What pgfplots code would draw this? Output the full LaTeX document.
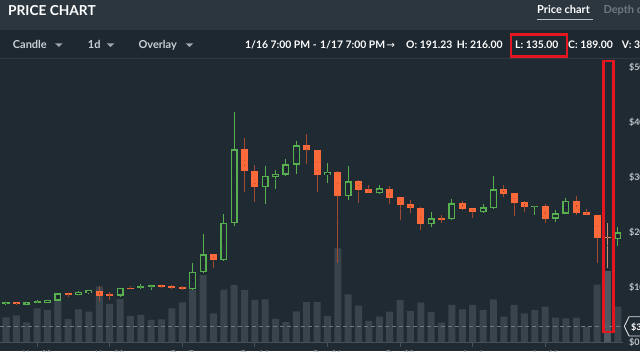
\documentclass[border=0pt]{standalone}
\usepackage{pgfplots}
\pgfplotsset{compat=1.18}
\usepackage{pgfplotstable}
\usepackage{fontspec}
\setmainfont{Lato}
\newfontfamily\symfont{DejaVu Sans}

\definecolor{bg}{RGB}{31,42,51}
\definecolor{hdr}{RGB}{43,54,63}
\definecolor{tool}{RGB}{30,40,48}
\definecolor{sepc}{RGB}{46,57,66}
\definecolor{vol}{RGB}{57,68,77}
\definecolor{volsel}{RGB}{78,89,98}
\definecolor{up}{RGB}{88,175,80}
\definecolor{dn}{RGB}{250,105,58}
\definecolor{dnwick}{RGB}{160,75,50}
\definecolor{selbody}{RGB}{232,140,100}
\definecolor{selwick}{RGB}{200,140,115}
\definecolor{axgrey}{RGB}{72,82,90}
\definecolor{lbl}{RGB}{190,196,202}
\definecolor{tbtxt}{RGB}{200,207,214}
\definecolor{hl}{RGB}{228,22,32}
\definecolor{dashc}{RGB}{110,120,128}

\pgfplotsset{
  cwick/.style={only marks, mark=*, mark size=0.01pt, mark options={draw=none, fill=none},
    error bars/.cd, y dir=both, y explicit, error mark=none,
    error bar style={line width=1pt, draw=#1}},
  cbody/.style 2 args={only marks, mark=*, mark size=0.01pt, mark options={draw=none, fill=none},
    error bars/.cd, y dir=both, y explicit, error mark=none,
    error bar style={line width=#2, draw=#1}},
}

% up (green) candles
\pgfplotstableread{
i O H L C
0 69 73 68 72
2 68 72.5 67.5 72
3 70.5 76.5 70 74.5
4 71.5 77 71 76.5
5 75 89 74 88.5
7 85.5 93 85 91.5
8 89 95 88 94.5
11 84 99 81.8 98.8
13 98 105 95.5 101.8
14 99.4 104 94.5 103.6
18 95.8 143 95 127.8
19 127 196 126 159.5
21 148.5 232.7 148 217
22 216.4 417.6 211.5 350.3
25 281.3 320.6 251 302.4
26 300.6 312.7 278.7 305.5
27 304.2 332.7 301.8 323
28 322.4 365 305 357.6
31 303 326 289.6 309.7
33 265.5 320 259 292
36 271.5 285 269 279.4
41 214 235.8 208.5 225
43 223 260 222 252
46 236.4 250.3 234 245
47 243 301.8 242.5 277.6
51 245.3 247.5 231 247.5
53 224.2 240 217.6 234
54 233.3 261 233 256.4
59 187 208.5 174.5 199.4
}\upt

% down (red) candles
\pgfplotstableread{
i O H L C
1 72 73 67 68.5
6 88.5 89.5 82 85
9 93.5 102 74 84
10 86.7 91.5 76.5 85
12 98.8 102 96 97
15 103.6 104 99 99.4
16 101.2 103 96.4 98.2
17 100.6 102.4 94 96.4
20 159.5 160 134 148.5
23 350.3 370 273 311
24 311.5 321.8 255 281.3
29 357.6 378 323 348.5
30 349 349.5 273 303
32 309.7 310.5 143 265.5
34 292 294.5 252 276.4
35 277.6 285.5 270 271.5
37 278.7 284 251 262.4
38 263 263.5 222 248.5
39 250.3 258 235 243
40 244 246 203.6 214
42 225 231 215.8 223
44 252 256.4 239.5 242.4
45 243 243.5 225 236.4
48 277.6 285.5 263 269
49 271 271.5 229 252
50 254 257 236.4 245
52 247.8 251 217 224.2
55 256.4 265.5 231 235
56 237 242.4 230 230.4
57 231 231.5 144 188.5
}\dnt

% selected candle
\pgfplotstableread{
i O H L C
58 191.23 216 135 189
}\selt

% volume (millions)
\pgfplotstableread{
i v
0 4.63
1 5.0
2 3.69
3 6.32
4 6.0
5 7.74
6 4.31
7 6.13
8 5.68
9 10.37
10 7.13
11 8.06
12 4.88
13 5.06
14 4.13
15 4.26
16 6.32
17 7.44
18 9.84
19 12.56
20 5.38
21 9.84
22 10.69
23 9.75
24 7.88
25 8.0
26 4.35
27 3.71
28 5.72
29 7.46
30 7.5
31 4.88
32 17.57
33 8.94
34 6.81
35 3.94
36 4.74
37 5.68
38 7.88
39 5.81
40 7.37
41 5.63
42 3.62
43 6.94
44 6.13
45 6.94
46 6.0
47 8.0
48 4.74
49 6.94
50 5.38
51 6.0
52 6.62
53 4.56
54 4.44
55 4.56
56 2.87
57 10.74
59 6.62
}\volt

\pgfplotstableread{
i v
58 13.37
}\volselt

\begin{document}
\begin{tikzpicture}[x=1pt,y=1pt]
\useasboundingbox (0,0) rectangle (640,351);
\clip (0,0) rectangle (640,351);
\fill[bg] (0,0) rectangle (640,351);
\fill[hdr] (0,321) rectangle (640,351);
\fill[tool] (0,293) rectangle (640,321);
\draw[sepc, line width=1pt] (0,292.5) -- (640,292.5);

% header
\node[anchor=base west, inner sep=0, font=\fontsize{13.7}{16}\selectfont\bfseries, white] at (8,335.3) {PRICE CHART};
\node[anchor=base west, inner sep=0, font=\fontsize{11}{12}\selectfont\bfseries, white] at (537,337) {Price chart};
\draw[lbl, line width=1.3pt] (537,331.5) -- (593.3,331.5);
\node[anchor=base west, inner sep=0, font=\fontsize{11}{12}\selectfont\bfseries, text=dashc] at (603.3,337) {Depth chart};

% toolbar
\begin{scope}[font=\fontsize{11}{12}\selectfont\bfseries]
\node[anchor=base west, inner sep=0, text=tbtxt] at (12.7,302.3) {Candle};
\node[anchor=base west, inner sep=0, text=tbtxt] at (87.7,302.3) {1d};
\node[anchor=base west, inner sep=0, text=tbtxt] at (138.3,302.3) {Overlay};
\fill[lbl!80!bg] (55,307.7) -- (62.7,307.7) -- (58.85,304) -- cycle;
\fill[lbl!80!bg] (106.7,307.7) -- (114.3,307.7) -- (110.5,304) -- cycle;
\fill[lbl!80!bg] (185.7,307.7) -- (193.3,307.7) -- (189.5,304) -- cycle;
\end{scope}
\begin{scope}[font=\fontsize{10.4}{12}\selectfont\bfseries]
\node[anchor=base west, inner sep=0, text=white] at (245,302.3) {1/16 7:00 PM -};
\node[anchor=base west, inner sep=0, text=white] at (320,302.3) {1/17 7:00 PM};
\node[anchor=base west, inner sep=0, text=white, font=\symfont\fontsize{10}{12}\selectfont] at (386.5,302.3) {→};
\node[anchor=base west, inner sep=0, text=white] at (406,302.3) {O: 191.23};
\node[anchor=base west, inner sep=0, text=white] at (456.7,302.3) {H: 216.00};
\node[anchor=base west, inner sep=0, text=white] at (515,302.3) {L: 135.00};
\node[anchor=base west, inner sep=0, text=white] at (568,302.3) {C: 189.00};
\node[anchor=base west, inner sep=0, text=white] at (621.7,302.3) {V: 39.4M};
\end{scope}

% volume axis
\begin{axis}[at={(0pt,9pt)}, anchor=south west, scale only axis,
  width=623pt, height=284pt,
  xmin=-0.5786, xmax=59.5, ymin=0, ymax=53.25,
  axis x line=bottom, axis y line=none,
  x axis line style={draw=axgrey, line width=1pt, -},
  xtick={3,10,17,24,31,38,45,52},
  xticklabels={Nov 23,Nov 30,Dec 7,Dec 14,Dec 21,Dec 28,Jan 4,Jan 11},
  tick align=outside, major tick length=5pt,
  tick style={draw=axgrey, line width=1pt},
  xticklabel style={font=\fontsize{9}{10}\selectfont\bfseries, text=lbl},
  clip=false]
\addplot[ybar, bar width=7pt, bar shift=0pt, fill=vol, draw=none] table[x=i, y=v] {\volt};
\addplot[ybar, bar width=7pt, bar shift=0pt, fill=volsel, draw=none] table[x=i, y=v] {\volselt};
\addplot[dashc, line width=0.8pt, dash pattern=on 4pt off 3pt] coordinates {(-0.5786,3) (59.3,3)};
\end{axis}

% price axis
\begin{axis}[at={(0pt,9pt)}, anchor=south west, scale only axis,
  width=623pt, height=284pt,
  xmin=-0.5786, xmax=59.5, ymin=0, ymax=516.36,
  hide x axis, axis y line*=right, y axis line style={draw=none},
  ytick={0,100,200,300,400,500},
  yticklabels={\$0,\$100,\$200,\$300,\$400,\$500},
  major tick length=0pt,
  yticklabel style={font=\fontsize{9}{10}\selectfont\bfseries, text=lbl, anchor=west, xshift=2.5pt}]
% wicks
\addplot[cwick=dnwick]
  table[x=i, y expr={(\thisrow{H}+\thisrow{L})/2}, y error expr={(\thisrow{H}-\thisrow{L})/2}] {\dnt};
\addplot[cwick=up]
  table[x=i, y expr={(\thisrow{H}+\thisrow{L})/2}, y error expr={(\thisrow{H}-\thisrow{L})/2}] {\upt};
\addplot[cwick=selwick]
  table[x=i, y expr={(\thisrow{H}+\thisrow{L})/2}, y error expr={(\thisrow{H}-\thisrow{L})/2}] {\selt};
% bodies
\addplot[cbody={dn}{7pt}]
  table[x=i, y expr={(\thisrow{O}+\thisrow{C})/2}, y error expr={max(abs(\thisrow{O}-\thisrow{C})/2,0.95)}] {\dnt};
\addplot[cbody={up}{7pt}]
  table[x=i, y expr={(\thisrow{O}+\thisrow{C})/2}, y error expr={max(abs(\thisrow{O}-\thisrow{C})/2,0.95)}] {\upt};
\addplot[cbody={bg}{4.4pt}]
  table[x=i, y expr={(\thisrow{O}+\thisrow{C})/2}, y error expr={max(abs(\thisrow{O}-\thisrow{C})/2-2.364,0)}] {\upt};
\addplot[cbody={selbody}{7pt}]
  table[x=i, y expr={(\thisrow{O}+\thisrow{C})/2}, y error expr={max(abs(\thisrow{O}-\thisrow{C})/2,1.2)}] {\selt};
\end{axis}

% volume marker on right
\draw[white!85!bg, line width=0.9pt, fill=bg] (629,34.3) -- (641,34.3) -- (641,15) -- (629,15) -- (624.3,24.7) -- cycle;
\node[anchor=base west, inner sep=0, font=\fontsize{9}{10}\selectfont\bfseries, text=white] at (631,21) {\$3M};

% highlight boxes
\draw[hl, line width=2.4pt] (511.2,294.3) rectangle (566.8,316.3);
\draw[hl, line width=2.4pt] (603.5,19) rectangle (613.3,289.8);
\end{tikzpicture}
\end{document}
